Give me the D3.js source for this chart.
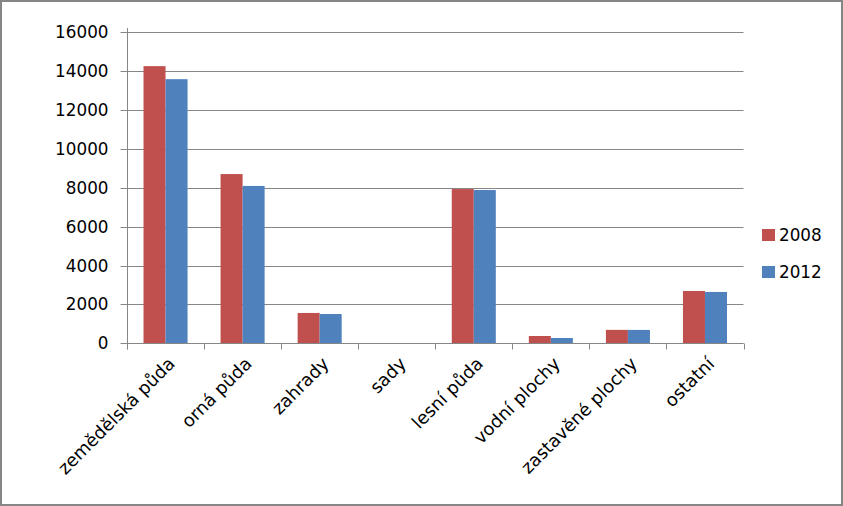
<!DOCTYPE html>
<html><head><meta charset="utf-8">
<script src="https://cdn.jsdelivr.net/npm/d3@7/dist/d3.min.js"></script>
<style>
html,body{margin:0;padding:0;background:#fff;}
svg{display:block;}
text{font-family:"DejaVu Sans",sans-serif;fill:#000;}
</style></head><body>
<svg id="chart" width="843" height="506"></svg>
<script>
const categories = ["zemědělská půda","orná půda","zahrady","sady","lesní půda","vodní plochy","zastavěné plochy","ostatní"];
const series2008 = [14250, 8700, 1560, 0, 7930, 375, 690, 2690];
const series2012 = [13580, 8090, 1505, 0, 7880, 272, 688, 2640];
const seriesNames = ["2008","2012"];
const seriesColors = ["#C0504D","#4F81BD"];
const yTicks = [0,2000,4000,6000,8000,10000,12000,14000,16000];

const FS = "16.8px";
const svg = d3.select("#chart");
const W = 843, H = 506;
svg.append("rect").attr("x",1).attr("y",1).attr("width",W-2).attr("height",H-2)
  .attr("fill","#fff").attr("stroke","#868686").attr("stroke-width",2);

const m = {left:127, right:743.5, top:32.1, bottom:343.3};
const x = d3.scaleBand().domain(categories).range([m.left, m.right]).paddingInner(0).paddingOuter(0);
const y = d3.scaleLinear().domain([0,16000]).range([m.bottom, m.top]);

// gridlines
const g = svg.append("g");
g.selectAll("line.grid").data(yTicks).join("line")
  .attr("x1", m.left).attr("x2", m.right)
  .attr("y1", d=>Math.round(y(d))+0.5).attr("y2", d=>Math.round(y(d))+0.5)
  .attr("stroke","#868686").attr("stroke-width",1);

// bars
const data = categories.map((c,i)=>({c, vals:[series2008[i], series2012[i]]}));
const bw = x.bandwidth()/3.5;
const groups = svg.append("g").selectAll("g").data(data).join("g")
  .attr("transform", d=>`translate(${x(d.c)},0)`);
groups.selectAll("rect").data(d=>d.vals.map((v,k)=>({v,k}))).join("rect")
  .attr("x", d=> bw*0.75 + d.k*bw)
  .attr("width", bw)
  .attr("y", d=>y(d.v))
  .attr("height", d=>y(0)-y(d.v))
  .attr("fill", d=>seriesColors[d.k]);

// y axis
const yAxis = d3.axisLeft(y).tickValues(yTicks).tickSize(7).tickPadding(12).tickFormat(d3.format("d"));
const ya = svg.append("g").attr("transform",`translate(${Math.round(m.left)+0.5},0)`).call(yAxis);
ya.select(".domain").attr("stroke","#868686").attr("d",`M0,${m.top-4}V${m.bottom+6}`);
ya.selectAll(".tick line").attr("stroke","#868686");
ya.selectAll(".tick").attr("transform", d=>`translate(0,${Math.round(y(d))+0.5})`);
ya.selectAll("text").style("font-family","DejaVu Sans").style("font-size",FS).attr("fill","#000");

// x axis
const xAxis = d3.axisBottom(x).tickSize(0).tickFormat("");
const xa = svg.append("g").attr("transform",`translate(0,${Math.round(m.bottom)+0.5})`).call(xAxis);
xa.select(".domain").attr("stroke","#868686").attr("d",`M${m.left},0H${m.right}`);
xa.selectAll(".tick").remove();
const bounds = categories.map(c=>x(c)).concat([m.right]);
xa.selectAll("line.tk").data(bounds).join("line")
  .attr("x1",d=>Math.round(d)+0.5).attr("x2",d=>Math.round(d)+0.5)
  .attr("y1",0).attr("y2",6).attr("stroke","#868686");
xa.selectAll("text.cat").data(categories).join("text")
  .attr("class","cat")
  .attr("text-anchor","end")
  .attr("transform", d=>`translate(${x(d)+x.bandwidth()/2+6},${17}) rotate(-45)`)
  .attr("dy","0.35em")
  .style("font-size","17.8px")
  .text(d=>d);

// legend
const lg = svg.append("g").attr("transform","translate(762,229)");
seriesNames.forEach((s,i)=>{
  lg.append("rect").attr("x",0).attr("y",i*37).attr("width",13).attr("height",12).attr("fill",seriesColors[i]);
  lg.append("text").attr("x",17).attr("y",i*37+12).style("font-size",FS).text(s);
});
</script>
</body></html>
